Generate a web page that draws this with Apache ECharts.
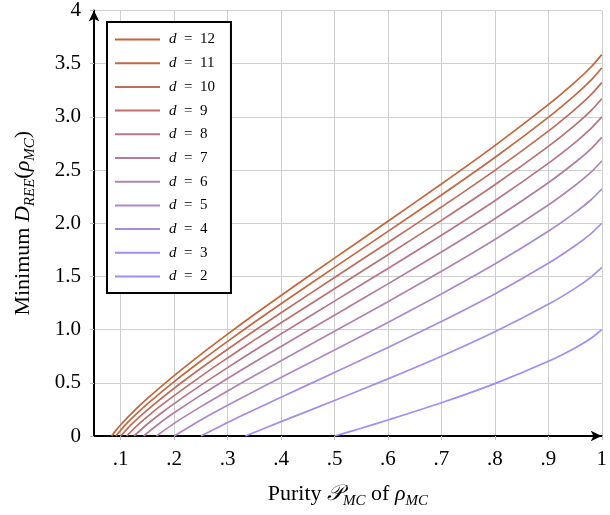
<!DOCTYPE html>
<html><head><meta charset="utf-8">
<script src="https://cdn.jsdelivr.net/npm/echarts@6/dist/echarts.min.js"></script>
<style>html,body{margin:0;padding:0;background:#fff}#c{width:610px;height:515px}</style>
</head><body><div id="c"></div>
<script>
// ---- data ----
const dims = [12, 11, 10, 9, 8, 7, 6, 5, 4, 3, 2];
const purity_d12 = [0.0833,0.09,0.1,0.125,0.15,0.2,0.25,0.3,0.35,0.4,0.5,0.6,0.7,0.8,0.9,0.95,0.98,1];
const dree_d12   = [0,0.046,0.106,0.236,0.354,0.568,0.768,0.958,1.142,1.321,1.672,2.019,2.369,2.730,3.115,3.327,3.469,3.585];
const purity_d11 = [0.0909,0.11,0.125,0.15,0.2,0.25,0.3,0.35,0.4,0.5,0.6,0.7,0.8,0.9,0.95,0.98,1];
const dree_d11   = [0,0.112,0.187,0.302,0.511,0.705,0.890,1.069,1.243,1.585,1.924,2.265,2.618,2.996,3.205,3.345,3.459];
const purity_d10 = [0.1,0.12,0.15,0.2,0.25,0.3,0.35,0.4,0.5,0.6,0.7,0.8,0.9,0.95,0.98,1];
const dree_d10   = [0,0.109,0.246,0.449,0.637,0.816,0.989,1.158,1.490,1.819,2.152,2.497,2.866,3.071,3.209,3.322];
const purity_d9  = [0.1111,0.13,0.15,0.175,0.2,0.25,0.3,0.35,0.4,0.5,0.6,0.7,0.8,0.9,0.95,0.98,1];
const dree_d9    = [0,0.096,0.183,0.285,0.380,0.561,0.734,0.901,1.064,1.385,1.704,2.027,2.362,2.723,2.923,3.059,3.170];
const purity_d8  = [0.125,0.15,0.175,0.2,0.25,0.3,0.35,0.4,0.5,0.6,0.7,0.8,0.9,0.95,0.98,1];
const dree_d8    = [0,0.113,0.212,0.304,0.478,0.643,0.803,0.960,1.268,1.575,1.887,2.212,2.563,2.758,2.891,3.0];
const purity_d7  = [0.1429,0.175,0.2,0.25,0.3,0.35,0.4,0.5,0.6,0.7,0.8,0.9,0.95,0.98,1];
const dree_d7    = [0,0.129,0.218,0.384,0.541,0.693,0.842,1.136,1.430,1.729,2.042,2.381,2.571,2.700,2.807];
const purity_d6  = [0.1667,0.2,0.25,0.3,0.35,0.4,0.5,0.6,0.7,0.8,0.9,0.95,0.98,1];
const dree_d6    = [0,0.119,0.276,0.424,0.567,0.708,0.985,1.263,1.548,1.847,2.172,2.355,2.480,2.585];
const purity_d5  = [0.2,0.25,0.3,0.35,0.4,0.5,0.6,0.7,0.8,0.9,0.95,0.98,1];
const dree_d5    = [0,0.151,0.289,0.421,0.551,0.808,1.068,1.335,1.616,1.925,2.100,2.221,2.322];
const purity_d4  = [0.25,0.3,0.35,0.4,0.5,0.6,0.7,0.8,0.9,0.95,0.98,1];
const dree_d4    = [0,0.127,0.247,0.364,0.597,0.832,1.077,1.336,1.624,1.789,1.903,2.0];
const purity_d3  = [0.3333,0.4,0.5,0.6,0.7,0.8,0.9,0.95,0.98,1];
const dree_d3    = [0,0.135,0.333,0.537,0.750,0.980,1.238,1.388,1.494,1.585];
const purity_d2  = [0.5,0.55,0.6,0.7,0.8,0.9,0.95,0.98,1];
const dree_d2    = [0,0.073,0.150,0.312,0.492,0.702,0.828,0.919,1.0];

const xTickValues = [0.1,0.2,0.3,0.4,0.5,0.6,0.7,0.8,0.9,1];

// ---- styles ----
const colors = {
  12:'#c8643a', 11:'#c4683f', 10:'#c06c5b', 9:'#bc7070', 8:'#b87488',
  7:'#b47c9c', 6:'#b084b0', 5:'#ac88c8', 4:'#a88ae0', 3:'#a48cf0', 2:'#a08cff'
};
const FONT = 'Liberation Serif';

const curves = {
  12:[purity_d12,dree_d12], 11:[purity_d11,dree_d11], 10:[purity_d10,dree_d10],
  9:[purity_d9,dree_d9], 8:[purity_d8,dree_d8], 7:[purity_d7,dree_d7],
  6:[purity_d6,dree_d6], 5:[purity_d5,dree_d5], 4:[purity_d4,dree_d4],
  3:[purity_d3,dree_d3], 2:[purity_d2,dree_d2]
};

const series = dims.map(d => {
  const [xs, ys] = curves[d];
  return {
    name: 'd = ' + d,
    type: 'line',
    data: xs.map((x, i) => [x, ys[i]]),
    showSymbol: false,
    smooth: 0.25,
    lineStyle: { width: 1.7, color: colors[d] },
    itemStyle: { color: colors[d] },
    emphasis: { disabled: true },
    z: 3
  };
});

const chart = echarts.init(document.getElementById('c'), null, { renderer: 'canvas' });
chart.setOption({
  animation: false,
  backgroundColor: '#fff',
  grid: { left: 90, right: 4, top: 8, bottom: 79, containLabel: false },
  legend: {
    data: dims.map(d => 'd = ' + d),
    orient: 'vertical',
    left: 107, top: 22,
    icon: 'rect',
    itemWidth: 45, itemHeight: 2,
    itemGap: 8.7,
    padding: [10, 16, 9, 8],
    borderColor: '#000', borderWidth: 2, borderRadius: 0,
    backgroundColor: '#fff',
    formatter: name => '{i|d}{n|\u2002=\u2002' + name.split('= ')[1] + '}',
    textStyle: {
      fontFamily: FONT, fontSize: 15, color: '#000', lineHeight: 14,
      rich: {
        i: { fontFamily: FONT, fontStyle: 'italic', fontSize: 15, lineHeight: 14, padding: [0, 0, 0, 4] },
        n: { fontFamily: FONT, fontSize: 15, lineHeight: 14 }
      }
    }
  },
  xAxis: {
    type: 'value', min: 0.05, max: 1,
    name: 'Purity {c|𝒫}{sub|MC} of {i|ρ}{sub|MC}',
    nameLocation: 'middle', nameGap: 43,
    nameTextStyle: {
      fontFamily: FONT, fontSize: 22, color: '#000', lineHeight: 30,
      rich: {
        c: { fontFamily: FONT, fontStyle: 'italic', fontSize: 22, lineHeight: 30 },
        i: { fontFamily: FONT, fontStyle: 'italic', fontSize: 22, lineHeight: 30 },
        sub: { fontFamily: FONT, fontStyle: 'italic', fontSize: 15, lineHeight: 15, verticalAlign: 'bottom' }
      }
    },
    axisLine: { show: true, lineStyle: { color: '#000', width: 2 }, symbol: ['none', 'arrow'], symbolSize: [8, 11] },
    axisTick: { show: true, length: 4, lineStyle: { color: '#bbb' }, customValues: xTickValues },
    axisLabel: {
      customValues: xTickValues, margin: 13,
      fontFamily: FONT, fontSize: 21, color: '#000',
      formatter: v => (Math.abs(v - 1) < 1e-9 ? '1' : '.' + Math.round(v * 10))
    },
    splitLine: { show: true, lineStyle: { color: '#cfcfcf', width: 1 } }
  },
  yAxis: {
    type: 'value', min: 0, max: 4, interval: 0.5,
    name: 'Minimum {i|D}{sub|REE}({i|ρ}{sub|MC})',
    nameLocation: 'middle', nameGap: 56, nameRotate: 90,
    nameTextStyle: {
      fontFamily: FONT, fontSize: 22, color: '#000', lineHeight: 30,
      rich: {
        i: { fontFamily: FONT, fontStyle: 'italic', fontSize: 22, lineHeight: 30 },
        sub: { fontFamily: FONT, fontStyle: 'italic', fontSize: 15, lineHeight: 15, verticalAlign: 'bottom' }
      }
    },
    axisLine: { show: true, lineStyle: { color: '#000', width: 2 }, symbol: ['none', 'arrow'], symbolSize: [8, 11] },
    axisTick: { show: true, length: 4, lineStyle: { color: '#bbb' } },
    axisLabel: {
      margin: 13, fontFamily: FONT, fontSize: 21, color: '#000',
      formatter: v => (v === 0 ? '0' : v === 4 ? '4' : v.toFixed(1))
    },
    splitLine: { show: true, lineStyle: { color: '#cfcfcf', width: 1 } }
  },
  series: series
});
</script>
</body></html>
